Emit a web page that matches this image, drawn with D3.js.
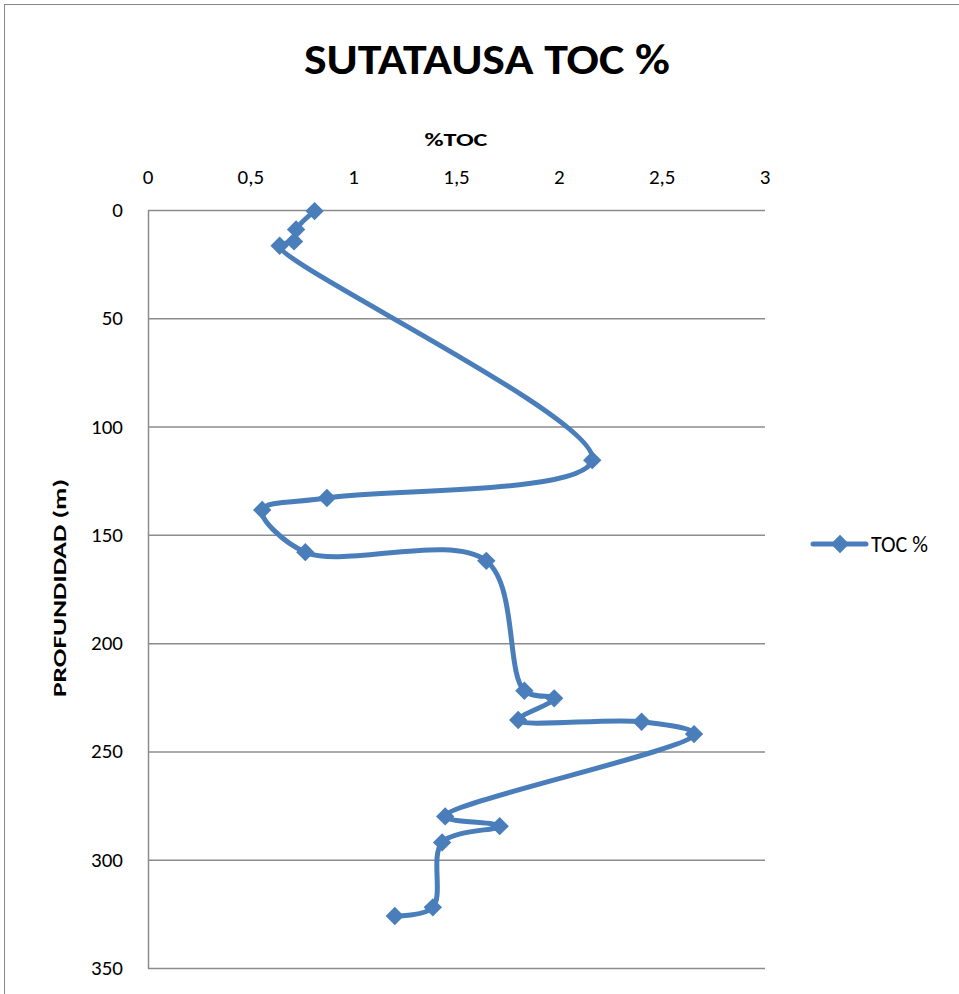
<!DOCTYPE html>
<html>
<meta charset='utf-8'>
<head>
<title>SUTATAUSA TOC %</title>
<script src='https://d3js.org/d3.v7.min.js'></script>
<style>
body { margin: 0; background: #fff; }
text { font-family: Calibri, Carlito, 'Liberation Sans', 'Open Sans', sans-serif; }
</style>
</head>
<body>
<div id='chart'></div>
<script>
// data, in well order
var toc = [0.81, 0.72, 0.71, 0.64, 2.16, 0.87, 0.555, 0.765, 1.645, 1.83, 1.975, 1.80, 2.40, 2.655, 1.445, 1.71, 1.43, 1.385, 1.20]
var depth = [0.5, 9, 14.5, 16.5, 115.5, 133, 138.5, 158, 162, 222, 225.5, 235.5, 236.3, 242, 280, 284.5, 292, 322, 326]
var xTicks = [0, 0.5, 1, 1.5, 2, 2.5, 3]
var yTicks = [0, 50, 100, 150, 200, 250, 300, 350]

var W = 959, H = 994
var blue = '#4a7ebb'

var svg = d3.select('#chart').append('svg')
    .attr('width', W)
    .attr('height', H)

// chart border
svg.append('rect')
    .attr('x', 4.5).attr('y', 4.5)
    .attr('width', W + 20).attr('height', H + 20)
    .style('fill', 'none')
    .style('stroke', '#888')

var x = d3.scaleLinear().domain([0, 3]).range([148, 765])
var y = d3.scaleLinear().domain([0, 350]).range([210, 968])

// gridlines
svg.selectAll('.grid')
    .data(yTicks)
    .enter()
    .append('line')
    .attr('x1', x(0)).attr('x2', x(3))
    .attr('y1', (d) => y(d) + 0.5).attr('y2', (d) => y(d) + 0.5)
    .style('stroke', '#8c8c8c')
    .style('stroke-width', 1.5)

svg.append('line')
    .attr('x1', x(0) + 0.5).attr('x2', x(0) + 0.5)
    .attr('y1', y(0)).attr('y2', y(350) + 1)
    .style('stroke', '#8c8c8c')
    .style('stroke-width', 1.5)

// tick labels
svg.selectAll('.xt')
    .data(xTicks)
    .enter()
    .append('text')
    .attr('x', (d) => x(d))
    .attr('y', 184)
    .attr('text-anchor', 'middle')
    .attr('font-size', 21)
    .text((d) => String(d).replace('.', ','))

svg.selectAll('.yt')
    .data(yTicks)
    .enter()
    .append('text')
    .attr('x', 123)
    .attr('y', (d) => y(d) + 7)
    .attr('text-anchor', 'end')
    .attr('font-size', 21)
    .text((d) => d)

// titles
svg.append('text')
    .attr('x', 487).attr('y', 74)
    .attr('text-anchor', 'middle')
    .attr('font-size', 43)
    .attr('font-weight', 'bold')
    .attr('textLength', 366)
    .attr('lengthAdjust', 'spacingAndGlyphs')
    .text('SUTATAUSA TOC %')

svg.append('text')
    .attr('x', 456).attr('y', 146)
    .attr('text-anchor', 'middle')
    .attr('font-size', 19)
    .attr('font-weight', 'bold')
    .attr('textLength', 63)
    .attr('lengthAdjust', 'spacingAndGlyphs')
    .text('%TOC')

svg.append('text')
    .attr('transform', 'translate(66,588) rotate(-90)')
    .attr('text-anchor', 'middle')
    .attr('font-size', 19)
    .attr('font-weight', 'bold')
    .attr('textLength', 218)
    .attr('lengthAdjust', 'spacingAndGlyphs')
    .text('PROFUNDIDAD (m)')

// series
var pts = toc.map((v, i) => [x(v), y(depth[i])])

svg.append('path')
    .attr('d', d3.line().curve(d3.curveCatmullRom.alpha(0.5))(pts))
    .style('fill', 'none')
    .style('stroke', blue)
    .style('stroke-width', 5)
    .style('stroke-linejoin', 'round')

var diamond = d3.symbol().type(d3.symbolDiamond2).size(215)

svg.selectAll('.mk')
    .data(pts)
    .enter()
    .append('path')
    .attr('d', diamond)
    .attr('transform', (d) => 'translate(' + d[0] + ',' + d[1] + ')')
    .style('fill', blue)

// legend
svg.append('line')
    .attr('x1', 813).attr('x2', 866)
    .attr('y1', 544).attr('y2', 544)
    .style('stroke', blue)
    .style('stroke-width', 5)
    .style('stroke-linecap', 'round')

svg.append('path')
    .attr('d', diamond)
    .attr('transform', 'translate(840,544)')
    .style('fill', blue)

svg.append('text')
    .attr('x', 871).attr('y', 552)
    .attr('font-size', 22)
    .attr('textLength', 57)
    .attr('lengthAdjust', 'spacingAndGlyphs')
    .text('TOC %')
</script>
</body>
</html>
